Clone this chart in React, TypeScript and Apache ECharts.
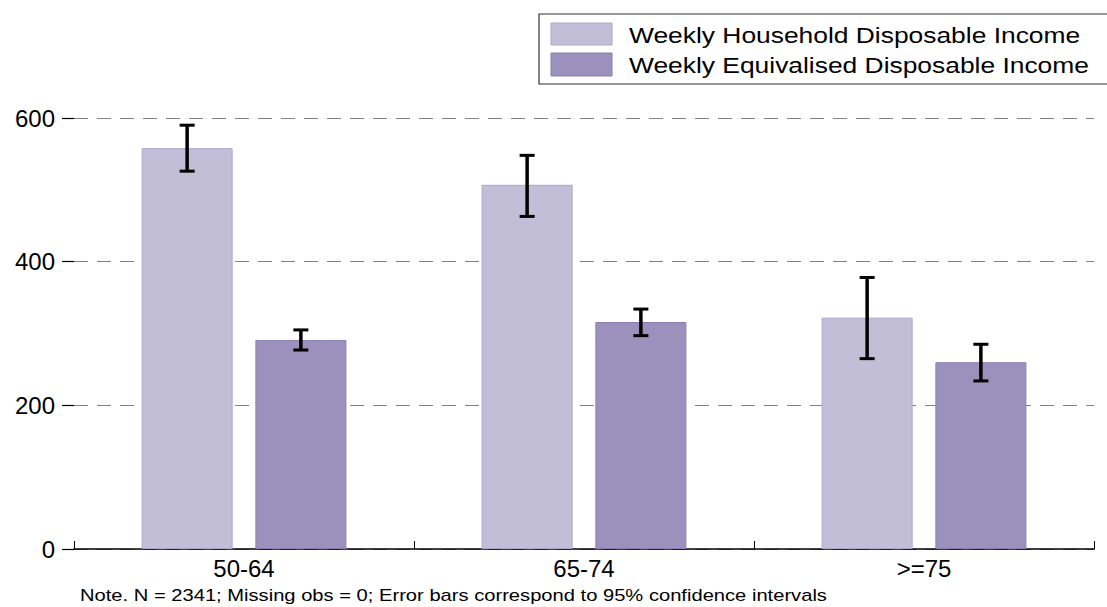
import React, { useEffect, useRef } from "react";
import * as echarts from "echarts";

const categories = ["50-64", "65-74", ">=75"];
const seriesNames = ["Weekly Household Disposable Income", "Weekly Equivalised Disposable Income"];
const householdIncome = [558, 507, 322];
const householdLow = [526, 463, 265];
const householdHigh = [590, 548, 378];
const equivIncome = [291, 316, 260];
const equivLow = [277, 297, 234];
const equivHigh = [305, 334, 285];
const yMin = 0;
const yMax = 600;
const yInterval = 200;
const noteText = "Note. N = 2341; Missing obs = 0; Error bars correspond to 95% confidence intervals";

const FONT = "'Liberation Sans', Arial, sans-serif";
const COLOR_HH = "#C3BED7";
const COLOR_HH_BORDER = "#ADA6CB";
const COLOR_EQ = "#9C91BC";
const COLOR_EQ_BORDER = "#8A7FB2";
const BAR_W = 91;
const BAR_GAP = 0.25;
const OFFSET = (BAR_W + BAR_W * BAR_GAP) / 2;
const CAP = 7.5;

function errorSeries(name: string, low: number[], high: number[], dx: number) {
  return {
    type: "custom",
    name,
    z: 10,
    silent: true,
    encode: { x: 0, y: [1, 2] },
    data: categories.map((_, i) => [i, low[i], high[i]]),
    renderItem: (params: any, api: any) => {
      const x = api.value(0);
      const lo = api.coord([x, api.value(1)]);
      const hi = api.coord([x, api.value(2)]);
      const cx = lo[0] + dx;
      return {
        type: "group",
        children: [
          { type: "line", shape: { x1: cx, y1: hi[1], x2: cx, y2: lo[1] }, style: { stroke: "#000", lineWidth: 3.5 } },
          { type: "line", shape: { x1: cx - CAP, y1: hi[1], x2: cx + CAP, y2: hi[1] }, style: { stroke: "#000", lineWidth: 3 } },
          { type: "line", shape: { x1: cx - CAP, y1: lo[1], x2: cx + CAP, y2: lo[1] }, style: { stroke: "#000", lineWidth: 3 } },
        ],
      };
    },
  };
}

export default function App() {
  const ref = useRef<HTMLDivElement>(null);
  useEffect(() => {
    if (!ref.current) return;
    const chart = echarts.init(ref.current, null, { renderer: "svg" });
    chart.setOption({
      animation: false,
      backgroundColor: "#fff",
      textStyle: { fontFamily: FONT },
      grid: { left: 74, right: 13, top: 118, bottom: 58, containLabel: false },
      xAxis: {
        type: "category",
        data: categories,
        axisLine: { show: true, lineStyle: { color: "#000", width: 1.5 } },
        axisTick: { show: true, inside: true, length: 8, lineStyle: { color: "#000", width: 1 } },
        axisLabel: { fontSize: 24, color: "#000", margin: 7, fontFamily: FONT },
        splitLine: { show: false },
      },
      yAxis: {
        type: "value",
        min: yMin,
        max: yMax,
        interval: yInterval,
        axisLine: { show: false },
        axisTick: { show: true, length: 12, lineStyle: { color: "#000", width: 1.2 } },
        axisLabel: { fontSize: 24, color: "#000", margin: 19, fontFamily: FONT },
        splitLine: { show: true, lineStyle: { color: "#808080", width: 1, type: [14, 9] } },
      },
      series: [
        {
          type: "bar",
          name: seriesNames[0],
          data: householdIncome,
          barWidth: BAR_W,
          barGap: "25%",
          itemStyle: { color: COLOR_HH, borderColor: COLOR_HH_BORDER, borderWidth: 1 },
        },
        {
          type: "bar",
          name: seriesNames[1],
          data: equivIncome,
          barWidth: BAR_W,
          barGap: "25%",
          itemStyle: { color: COLOR_EQ, borderColor: COLOR_EQ_BORDER, borderWidth: 1 },
        },
        errorSeries("hh-ci", householdLow, householdHigh, -OFFSET),
        errorSeries("eq-ci", equivLow, equivHigh, OFFSET),
      ],
      graphic: [
        {
          type: "group",
          children: [
            { type: "rect", shape: { x: 539, y: 14, width: 600, height: 70 }, style: { fill: "#fff", stroke: "#333", lineWidth: 1.2 } },
            { type: "rect", shape: { x: 551, y: 23, width: 61, height: 22 }, style: { fill: COLOR_HH, stroke: COLOR_HH_BORDER, lineWidth: 1 } },
            { type: "rect", shape: { x: 551, y: 53, width: 61, height: 23 }, style: { fill: COLOR_EQ, stroke: COLOR_EQ_BORDER, lineWidth: 1 } },
            { type: "text", x: 629, y: 35, scaleX: 1.2, style: { text: seriesNames[0], fontSize: 22, fontFamily: FONT, fill: "#000", verticalAlign: "middle" } },
            { type: "text", x: 629, y: 65, scaleX: 1.2, style: { text: seriesNames[1], fontSize: 22, fontFamily: FONT, fill: "#000", verticalAlign: "middle" } },
          ],
        },
        { type: "text", x: 80, y: 596, scaleX: 1.26, style: { text: noteText, fontSize: 16, fontFamily: FONT, fill: "#000", verticalAlign: "middle" } },
      ],
    });
    return () => chart.dispose();
  }, []);
  return <div ref={ref} style={{ position: "fixed", left: 0, top: 0, width: 1107, height: 607 }} />;
}
